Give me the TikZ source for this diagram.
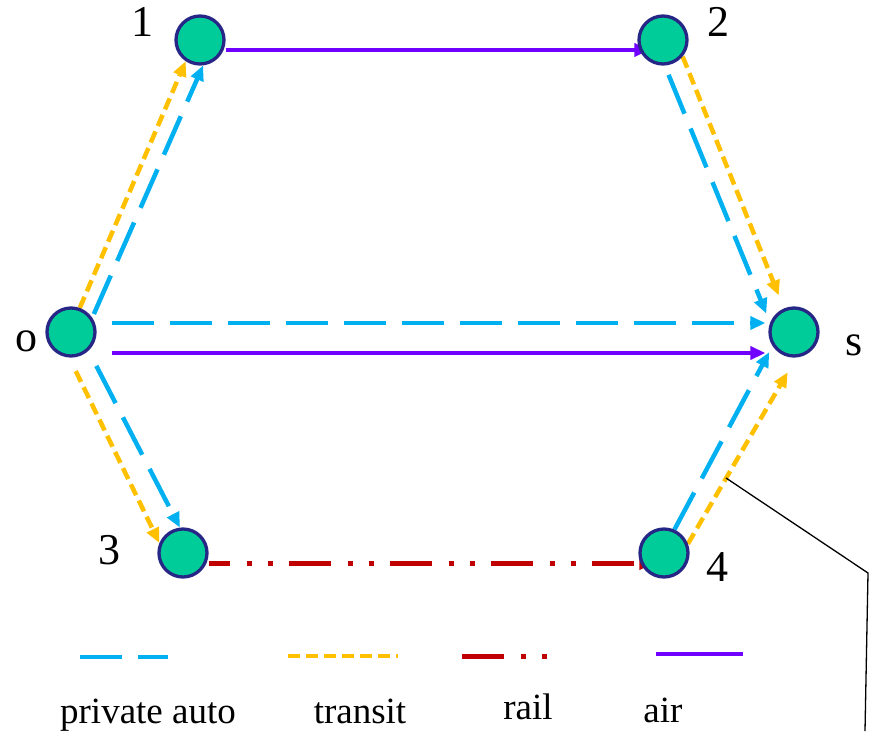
\documentclass[tikz,border=0pt]{standalone}
\usepackage{fontspec}
\setmainfont{Liberation Serif}
\usetikzlibrary{arrows.meta,backgrounds}
\definecolor{autoblue}{RGB}{0,176,240}
\definecolor{transityellow}{RGB}{255,192,0}
\definecolor{railred}{RGB}{192,0,0}
\definecolor{airpurple}{RGB}{112,0,255}
\definecolor{zonegreen}{RGB}{0,204,153}
\definecolor{zonenavy}{RGB}{38,38,134}

\begin{document}
\begin{tikzpicture}[x=1pt,y=-1pt,
  zone/.style={circle,fill=zonegreen,draw=zonenavy,line width=3.3pt,minimum size=48pt,inner sep=0pt,outer sep=1.65pt},
  lbl/.style={font=\fontsize{44}{44}\selectfont,inner sep=0pt},
  key/.style={font=\fontsize{37}{37}\selectfont,inner sep=0pt,anchor=base},
  tip/.style={-{Triangle[length=15pt,width=13pt]}},
  privauto/.style={autoblue,line width=4.5pt,dash pattern=on 42pt off 16pt},
  transit/.style={transityellow,line width=4.5pt,dash pattern=on 12pt off 6pt},
  rail/.style={railred,line width=5pt,dash pattern=on 42pt off 17pt on 5pt off 16pt on 5pt off 16pt},
  air/.style={airpurple,line width=4.5pt}]
\useasboundingbox (0,0) rectangle (872,731);
% zones
\node[zone] (o) at (71,332) {};
\node[zone] (n1) at (200,40) {};
\node[zone] (n2) at (663,40) {};
\node[zone] (n3) at (183,553) {};
\node[zone] (n4) at (664,553) {};
\node[zone] (s) at (794,332) {};
\node[lbl] (l1) at (142,22) {1};
\node[lbl] (l2) at (718,22) {2};
\node[lbl] (lo) at (26,341) {o};
\node[lbl] (ls) at (854,345) {s};
\node[lbl] (l3) at (109,550) {3};
\node[lbl] (l4) at (717,567) {4};
% links
\begin{pgfonlayer}{background}
\draw[transit,tip] (o.70) -- (n1.236);
\draw[privauto,tip,shorten <=4pt] (o.34) -- (n1.-83);
\draw[privauto,tip,shorten <=10pt,shorten >=10pt] (n2.-86) -- (s.159);
\draw[transit,tip,shorten >=14pt] (n2.-40) -- (s.113);
\draw[privauto,tip,shorten <=15pt,shorten >=3pt] ([yshift=9pt]o.east) -- ([yshift=9pt]s.west);
\draw[air,tip,shorten <=15pt,shorten >=3pt] ([yshift=-21pt]o.east) -- ([yshift=-21pt]s.west);
\draw[transit,tip,shorten <=15pt] (o.-94) -- (n3.157);
\draw[privauto,tip,shorten <=17pt] (o.-47) -- (n3.97);
\draw[privauto,tip,shorten >=7pt] (n4.66) -- (s.213);
\draw[transit,tip,shorten >=17pt] (n4.21) -- (s.275);
\draw[air,tip,shorten >=-12pt] ([yshift=-10pt]n1.east) -- ([yshift=-10pt]n2.west);
\draw[rail,dash phase=21pt,tip,shorten >=-16pt] ([yshift=-10pt]n3.east) -- ([yshift=-10pt]n4.west);
\end{pgfonlayer}
% pointer
\coordinate (cpt) at (726,478);
\coordinate (cbend) at (868,573);
\coordinate (cend) at (865,731);
\draw[black,line width=1.3pt] (cpt) -- (cbend) -- (cend);
% legend
\draw[privauto] (80,657) -- (168,657);
\draw[transit] (288,656) -- (398,656);
\draw[rail] (462,656) -- (548,656);
\draw[air] (656,654) -- (743,654);
\node[key] (kauto) at (148,723) {private auto};
\node[key] (ktransit) at (360,723) {transit};
\node[key] (krail) at (528,719) {rail};
\node[key] (kair) at (663,722) {air};
\end{tikzpicture}
\end{document}
